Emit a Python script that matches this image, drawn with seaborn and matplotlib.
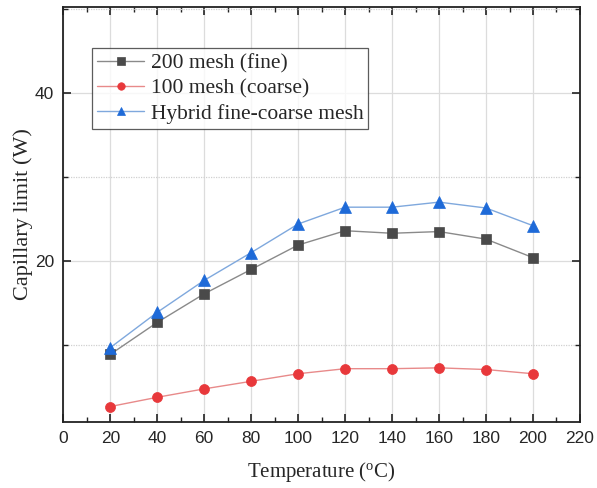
import numpy as np
import pandas as pd
import seaborn as sns
import matplotlib.pyplot as plt
from matplotlib.ticker import MultipleLocator

# values
temperature = [20, 40, 60, 80, 100, 120, 140, 160, 180, 200]
fine_200 = [8.9, 12.7, 16.1, 19.0, 21.9, 23.6, 23.3, 23.5, 22.6, 20.4]
coarse_100 = [2.7, 3.8, 4.8, 5.7, 6.6, 7.2, 7.2, 7.3, 7.1, 6.6]
hybrid = [9.7, 13.9, 17.7, 21.0, 24.4, 26.4, 26.4, 27.0, 26.3, 24.2]

series_names = ["200 mesh (fine)", "100 mesh (coarse)", "Hybrid fine-coarse mesh"]
series_values = [fine_200, coarse_100, hybrid]
marker_colors = ["#4a4a4a", "#e8383b", "#1e6ad8"]
line_colors = ["#8a8a8a", "#e88a8a", "#7fa8dd"]
markers = ["s", "o", "^"]
marker_sizes = [7, 7.2, 8]

sns.set_style("white")
plt.rcParams['font.family'] = ['Liberation Sans', 'DejaVu Sans']

fig = plt.figure(figsize=(5.97, 4.88), dpi=100)
ax = fig.add_axes([0.106, 0.1359, 0.8655, 0.8498])

for name, vals, mc, lc, m, ms in zip(series_names, series_values, marker_colors,
                                     line_colors, markers, marker_sizes):
    df = pd.DataFrame({"T": temperature, "P": vals})
    sns.lineplot(data=df, x="T", y="P", ax=ax, color=lc, lw=1.0, label=name,
                 marker=m, markersize=ms, markerfacecolor=mc, markeredgecolor=mc,
                 markeredgewidth=0.5)

ax.set_xlim(0, 220)
ax.set_ylim(0.9, 50.2)
ax.xaxis.set_major_locator(MultipleLocator(20))
ax.xaxis.set_minor_locator(MultipleLocator(10))
ax.yaxis.set_major_locator(MultipleLocator(20))
ax.yaxis.set_minor_locator(MultipleLocator(10))

ax.grid(True, which="major", axis="both", color="#dcdcdc", lw=0.9)
ax.grid(True, which="minor", axis="y", color="#d0d0d0", lw=0.9, ls=(0, (1, 1)))
ax.set_axisbelow(True)

ax.tick_params(which="both", direction="in", top=True, right=True,
               bottom=True, left=True, color="#222222")
ax.tick_params(which="major", length=6, width=1.2, labelsize=12.5, pad=6.5)
ax.tick_params(which="minor", length=3.5, width=1.0)
for s in ax.spines.values():
    s.set_visible(True)
    s.set_color("#222222")
    s.set_linewidth(1.3)

ax.set_xlabel("Temperature ($\\mathregular{^o}$C)", family="Liberation Serif",
              fontsize=15, labelpad=10)
ax.set_ylabel("Capillary limit (W)", family="Liberation Serif", fontsize=16,
              labelpad=1.5)

leg = ax.legend(loc="upper left", bbox_to_anchor=(0.056, 0.9004),
                prop={"family": "Liberation Serif", "size": 15.5},
                frameon=True, fancybox=False, edgecolor="#333333",
                handlelength=2.2, handletextpad=0.3, labelspacing=0.25,
                borderpad=0.22, borderaxespad=0, markerscale=0.75)
leg.get_frame().set_linewidth(0.9)

fig.savefig("out.png", dpi=100)
